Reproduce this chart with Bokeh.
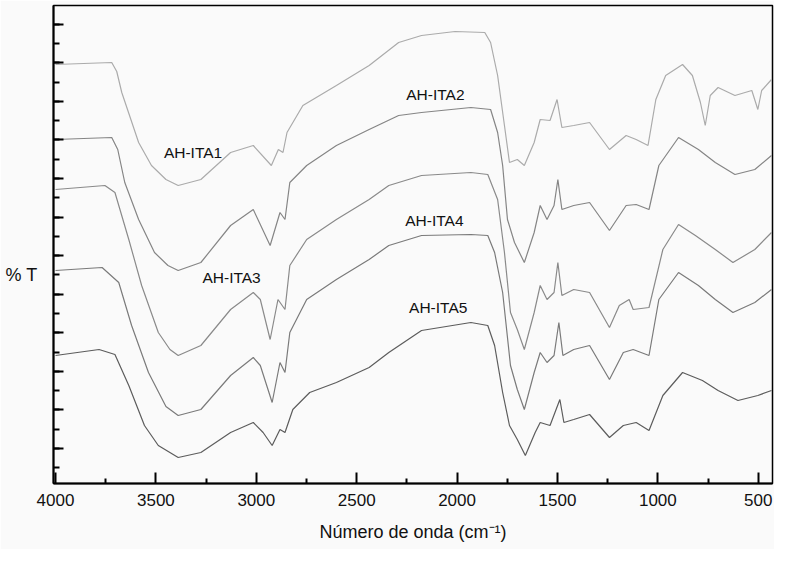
from bokeh.plotting import figure
from bokeh.models import Range1d, FixedTicker, Label, LinearAxis, CustomJSTickFormatter
from bokeh.embed import file_html
from bokeh.resources import INLINE

# ---- data (wavenumber cm^-1, %T arbitrary offset units) ----
wn1 = [4000, 3720, 3695, 3670, 3586, 3522, 3450, 3389, 3276, 3128, 3015, 2925, 2890, 2867, 2847, 2768, 2601, 2438,
       2291, 2177, 2010, 1862, 1833, 1798, 1764, 1739, 1700, 1665, 1616, 1586, 1537, 1502, 1478, 1419,
       1340, 1241, 1158, 1108, 1049, 1010, 961, 877, 828, 788, 764, 739, 700, 616, 532, 502, 483, 434]
t1 = [84.0, 84.4, 82.6, 78.4, 68.4, 63.8, 61.0, 59.8, 61.0, 66.4, 67.8, 63.8, 67.0, 66.4, 70.4, 75.8, 79.8, 83.8,
      88.4, 89.8, 90.6, 90.4, 88.4, 81.8, 71.8, 64.4, 65.0, 63.8, 68.4, 73.0, 72.8, 77.0, 71.4, 71.8,
      72.4, 67.0, 69.8, 69.0, 67.8, 77.0, 81.8, 84.0, 81.8, 76.4, 71.8, 77.8, 79.4, 77.8, 78.8, 75.0, 78.8, 81.0]

wn2 = [4000, 3720, 3690, 3655, 3586, 3507, 3440, 3389, 3276, 3128, 3015, 2931, 2882, 2857, 2833, 2749, 2601, 2438,
       2291, 2177, 1931, 1833, 1798, 1773, 1749, 1714, 1665, 1616, 1586, 1552, 1517, 1498, 1478, 1419,
       1340, 1241, 1158, 1108, 1044, 995, 897, 798, 714, 616, 517, 434]
t2 = [69.0, 69.4, 67.0, 60.4, 53.0, 46.4, 43.8, 42.8, 44.4, 51.8, 55.0, 47.8, 54.4, 53.0, 60.4, 63.8, 67.8, 71.0,
      73.8, 74.4, 75.4, 75.0, 70.4, 63.8, 53.0, 48.4, 44.4, 50.4, 55.8, 53.0, 55.8, 61.0, 55.0, 55.8,
      56.4, 50.8, 55.8, 56.0, 55.0, 63.8, 69.4, 67.0, 64.4, 62.0, 63.0, 65.8]

wn3 = [4000, 3754, 3704, 3635, 3571, 3488, 3430, 3389, 3276, 3128, 3015, 2980, 2931, 2892, 2857, 2833, 2749,
       2601, 2438, 2340, 2177, 1931, 1847, 1798, 1764, 1734, 1700, 1665, 1616, 1586, 1552, 1517, 1498,
       1478, 1419, 1340, 1241, 1192, 1143, 1123, 1044, 975, 897, 813, 714, 626, 517, 434]
t3 = [59.0, 59.8, 58.4, 49.0, 39.8, 30.4, 27.0, 25.8, 27.8, 35.0, 38.4, 37.0, 29.0, 37.0, 35.0, 43.8, 49.0,
      53.0, 57.0, 59.8, 61.8, 62.4, 62.0, 57.0, 46.4, 34.4, 31.0, 27.0, 34.4, 39.8, 37.0, 38.4, 44.4,
      37.8, 39.0, 38.4, 31.4, 35.8, 37.0, 35.0, 35.4, 47.0, 52.0, 49.8, 47.0, 44.4, 47.0, 50.4]

wn4 = [4000, 3768, 3685, 3621, 3537, 3450, 3389, 3276, 3128, 3015, 2980, 2921, 2882, 2857, 2833, 2749, 2601,
       2438, 2340, 2177, 1931, 1847, 1813, 1773, 1734, 1700, 1665, 1616, 1586, 1552, 1517, 1493, 1473,
       1419, 1340, 1241, 1172, 1123, 1044, 995, 897, 798, 714, 626, 517, 434]
t4 = [42.8, 43.4, 40.4, 31.8, 22.4, 15.6, 13.8, 15.0, 21.8, 25.4, 23.8, 16.4, 24.4, 22.4, 30.4, 37.0, 41.0,
      45.0, 47.8, 49.8, 50.0, 49.8, 46.4, 38.4, 23.8, 19.0, 15.0, 22.4, 26.4, 24.4, 25.8, 32.4, 25.8,
      27.0, 27.8, 21.0, 26.4, 27.0, 25.8, 37.0, 42.4, 39.8, 37.0, 34.4, 36.4, 39.0]

wn5 = [4000, 3783, 3704, 3635, 3557, 3488, 3389, 3276, 3128, 3015, 2966, 2921, 2882, 2857, 2818, 2734,
       2601, 2438, 2340, 2177, 1931, 1847, 1813, 1773, 1739, 1700, 1660, 1611, 1586, 1537, 1488, 1468,
       1419, 1340, 1241, 1172, 1108, 1044, 975, 877, 778, 700, 601, 502, 434]
t5 = [25.8, 27.0, 26.0, 19.8, 11.8, 7.8, 5.4, 6.4, 10.4, 12.4, 10.4, 7.8, 11.0, 10.4, 15.0, 18.4,
      20.4, 23.4, 26.4, 30.8, 32.4, 31.8, 27.8, 18.4, 11.8, 9.0, 5.8, 10.4, 12.4, 11.8, 17.0, 12.4,
      13.0, 14.0, 9.4, 11.8, 12.4, 10.8, 17.8, 22.4, 20.8, 18.8, 16.8, 17.8, 18.8]

names = ["AH-ITA1", "AH-ITA2", "AH-ITA3", "AH-ITA4", "AH-ITA5"]
xticks = [4000, 3500, 3000, 2500, 2000, 1500, 1000, 500]
xminor = [3750, 3250, 2750, 2250, 1750, 1250, 750]

series = [(wn1, t1), (wn2, t2), (wn3, t3), (wn4, t4), (wn5, t5)]
colors = ["#ababab", "#858585", "#8a8a8a", "#7a7a7a", "#5c5c5c"]
label_pos = [(3315, 66.4), (2108, 78.0), (3123, 41.4), (2113, 52.8), (2094, 35.4)]

BG = "#fafafa"
p = figure(width=774, height=549, output_backend="svg", toolbar_location=None,
           x_range=Range1d(4010, 429), y_range=Range1d(0.2, 95.8),
           min_border_left=53, min_border_right=2, min_border_top=5, min_border_bottom=66,
           background_fill_color=BG, border_fill_color=BG)
p.grid.visible = False
p.outline_line_color = "black"
p.outline_line_width = 1.5

for (x, y), c in zip(series, colors):
    p.line(x, y, line_color=c, line_width=1.2)

for name, (lx, ly) in zip(names, label_pos):
    p.add_layout(Label(x=lx, y=ly, text=name, text_align="center", text_baseline="middle",
                       text_font="Liberation Sans", text_font_size="15.5px", text_color="#111111"))

xa = p.xaxis[0]
xa.ticker = FixedTicker(ticks=xticks, minor_ticks=xminor)
xa.axis_line_width = 2
xa.major_tick_in = 11
xa.major_tick_out = 0
xa.minor_tick_in = 5
xa.minor_tick_out = 0
xa.major_tick_line_width = 2
xa.minor_tick_line_width = 2
xa.major_label_text_font = "Liberation Sans"
xa.major_label_text_font_size = "17px"
xa.major_label_text_color = "#111111"
xa.major_label_standoff = 10
xa.axis_label = "Número de onda (cm\u207b\u00b9)"
xa.axis_label_text_font = "Liberation Sans"
xa.axis_label_text_font_size = "18px"
xa.axis_label_text_font_style = "normal"
xa.axis_label_text_color = "#111111"
xa.axis_label_standoff = 13

ya = p.yaxis[0]
ya.ticker = FixedTicker(ticks=[7.2 + 7.714 * k for k in range(12)],
                        minor_ticks=[3.34 + 3.857 * k for k in range(24)])
ya.major_label_text_font_size = "0px"
ya.major_label_text_alpha = 0
ya.major_label_standoff = 0
ya.axis_line_width = 2
ya.major_tick_in = 10
ya.major_tick_out = 0
ya.minor_tick_in = 6
ya.minor_tick_out = 0
ya.major_tick_line_width = 2
ya.minor_tick_line_width = 2

# "% T" label as a horizontal tick label of an extra, bare axis
ylab = LinearAxis(ticker=FixedTicker(ticks=[41.9], minor_ticks=[]),
                  formatter=CustomJSTickFormatter(code="return '% T';"),
                  axis_line_color=None, major_tick_line_color=None, minor_tick_line_color=None,
                  major_tick_in=0, major_tick_out=0,
                  major_label_text_font="Liberation Sans", major_label_text_font_size="18px",
                  major_label_text_color="#111111", major_label_standoff=16)
p.add_layout(ylab, "left")

open("out.html", "w").write(file_html(p, INLINE))
